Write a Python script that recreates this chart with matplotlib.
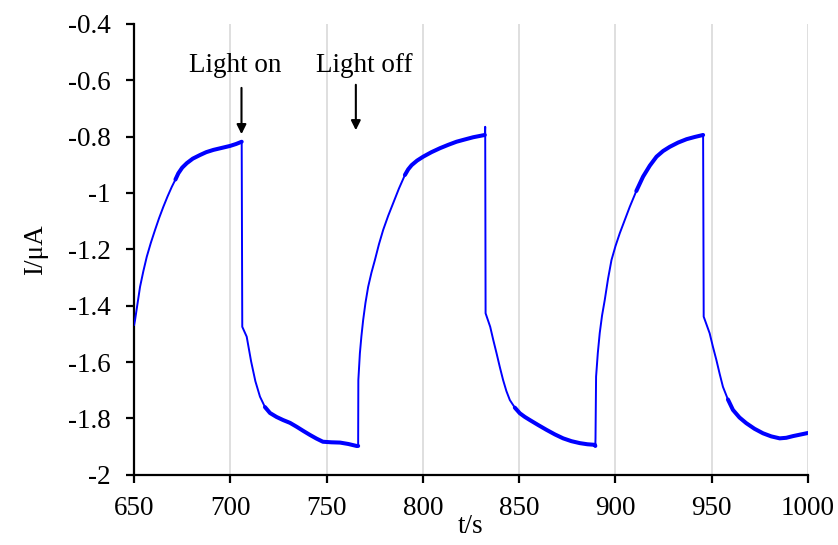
import numpy as np
import matplotlib
matplotlib.use("Agg")
import matplotlib.pyplot as plt

plt.rcParams['font.family'] = ['Liberation Serif', 'DejaVu Serif']

# time (s) and current (uA)
t = [650.0, 650.5, 651.8, 653.1, 654.8, 656.6, 658.7, 660.9, 663.0, 665.2, 667.4, 669.6, 671.5, 673.0,
     675.0, 677.4, 680.5, 684.3, 687.5, 691.2, 695.5, 699.8, 703.0, 705.9,
     706.2, 708.5, 710.8, 713.0, 715.4, 718.0, 720.6, 724.0, 727.4, 731.0, 734.5, 738.0, 741.4,
     744.8, 748.1, 752.5, 757.0, 761.3, 765.6, 766.4,
     766.5, 767.3, 768.1, 769.0, 770.2, 771.6, 773.3, 775.1, 777.2, 779.4, 782.0, 784.6, 787.6,
     790.7, 792.4, 794.2, 797.0, 800.2, 804.5, 808.9, 813.2, 817.5, 821.8, 826.2, 829.2, 832.2,
     832.4, 832.6, 835.0, 836.6, 838.3, 840.0, 841.7, 843.4, 845.2, 847.8, 850.4, 853.0, 855.6,
     860.0, 864.3, 868.6, 872.9, 877.2, 881.6, 885.5, 889.4, 889.6,
     889.7, 890.0, 890.9, 891.9, 893.1, 894.5, 896.2, 898.0, 900.1, 902.3, 904.9, 907.5, 910.9,
     914.4, 917.9, 921.4, 924.8, 928.3, 932.6, 937.0, 941.3, 945.6,
     945.9, 949.0, 950.7, 952.5, 954.2, 955.9, 958.5, 961.1, 964.5, 968.0, 972.3, 976.7, 981.0,
     985.4, 988.8, 992.3, 995.8, 999.3, 1000.0]
current = [-1.469, -1.451, -1.392, -1.333, -1.278, -1.226, -1.177, -1.131, -1.089, -1.049, -1.012, -0.978,
           -0.952, -0.930, -0.910, -0.894, -0.878, -0.865, -0.855, -0.847, -0.840, -0.833, -0.826, -0.818,
           -1.475, -1.510, -1.598, -1.668, -1.723, -1.760, -1.781, -1.795, -1.806, -1.816, -1.830,
           -1.845, -1.859, -1.872, -1.883, -1.885, -1.886, -1.891, -1.898, -1.898,
           -1.664, -1.569, -1.508, -1.451, -1.390, -1.333, -1.283, -1.238, -1.182, -1.131, -1.081,
           -1.036, -0.984, -0.936, -0.916, -0.901, -0.885, -0.871, -0.855, -0.841, -0.829, -0.818,
           -0.810, -0.802, -0.798, -0.794,
           -0.765, -1.427, -1.475, -1.522, -1.569, -1.618, -1.664, -1.703, -1.735, -1.762, -1.782,
           -1.795, -1.806, -1.824, -1.841, -1.857, -1.871, -1.881, -1.888, -1.892, -1.894, -1.898,
           -1.871, -1.652, -1.568, -1.497, -1.435, -1.380, -1.305, -1.238, -1.188, -1.143, -1.096,
           -1.049, -0.993, -0.942, -0.903, -0.871, -0.851, -0.836, -0.821, -0.809, -0.801, -0.794,
           -1.439, -1.498, -1.546, -1.593, -1.642, -1.688, -1.733, -1.770, -1.797, -1.817, -1.837,
           -1.853, -1.864, -1.871, -1.869, -1.863, -1.858, -1.853, -1.852]

x_ticks = [650, 700, 750, 800, 850, 900, 950, 1000]
y_ticks = [-2, -1.8, -1.6, -1.4, -1.2, -1, -0.8, -0.6, -0.4]
y_ticklabels = ['-2', '-1.8', '-1.6', '-1.4', '-1.2', '-1', '-0.8', '-0.6', '-0.4']

# plateau ranges where the recorded signal is visibly noisy (drawn thicker)
noisy_ranges = [(671, 706), (718, 766.4), (788, 832.3), (847, 889.6), (910, 945.7), (958, 1000)]

fig = plt.figure(figsize=(8.38, 5.45), dpi=100)
ax = fig.add_axes([0.160, 0.129, 0.804, 0.827])

t_arr = np.array(t)
c_arr = np.array(current)
ax.plot(t_arr, c_arr, color='#0000FF', lw=1.4, zorder=3,
        solid_joinstyle='round', solid_capstyle='round')
for lo, hi in noisy_ranges:
    m = (t_arr >= lo) & (t_arr <= hi)
    ax.plot(t_arr[m], c_arr[m], color='#0000FF', lw=2.9, zorder=3,
            solid_capstyle='round', solid_joinstyle='round')

ax.set_xlim(650, 1000)
ax.set_ylim(-2, -0.4)
ax.set_xticks(x_ticks)
ax.set_yticks(y_ticks)
ax.set_yticklabels(y_ticklabels)
ax.grid(axis='x', color='#d9d9d9', lw=1.2)
ax.set_axisbelow(True)

for s in ['top', 'right']:
    ax.spines[s].set_visible(False)
for s in ['left', 'bottom']:
    ax.spines[s].set_linewidth(1.6)
    ax.spines[s].set_color('black')

ax.tick_params(axis='both', direction='out', length=6, width=1.6, labelsize=19.5, colors='black')
ax.tick_params(axis='y', pad=11)
ax.tick_params(axis='x', pad=9)

ax.set_xlabel('t/s', fontsize=19.5, labelpad=-5)
ax.set_ylabel('I/\u03bcA', fontsize=19.5, labelpad=14)

ax.annotate('', xy=(705.8, -0.801), xytext=(705.8, -0.617),
            arrowprops=dict(arrowstyle='-|>', color='black', lw=1.5, mutation_scale=14))
ax.annotate('', xy=(765.2, -0.787), xytext=(765.2, -0.606),
            arrowprops=dict(arrowstyle='-|>', color='black', lw=1.5, mutation_scale=14))
ax.text(702.3, -0.549, 'Light on', fontsize=19.5, ha='center', va='center')
ax.text(769.4, -0.549, 'Light off', fontsize=19.5, ha='center', va='center')

fig.savefig('out.png', dpi=100)
